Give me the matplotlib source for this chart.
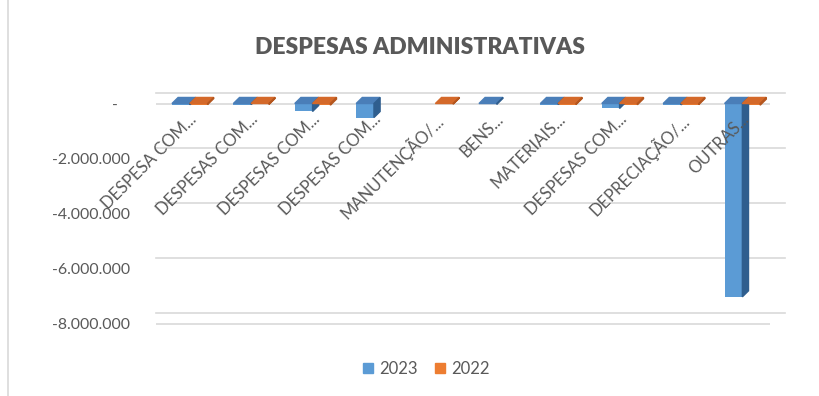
import matplotlib.pyplot as plt
from matplotlib.patches import Polygon, Rectangle
from matplotlib.lines import Line2D
from matplotlib.ticker import FuncFormatter

# dados
categorias = ['DESPESA COM...', 'DESPESAS COM...', 'DESPESAS COM...', 'DESPESAS COM...',
              'MANUTENÇÃO/...', 'BENS...', 'MATERIAIS...', 'DESPESAS COM...',
              'DEPRECIAÇÃO/...', 'OUTRAS...']
v2023 = [-45000, -40000, -290000, -510000, 0, -30000, -40000, -180000, -50000, -7030000]
v2022 = [-40000, -35000, -60000, 0, -25000, 0, -40000, -45000, -40000, -60000]
anos = ['2023', '2022']

AZUL = '#5B9BD5'
LARANJA = '#ED7D31'
CINZA = '#595959'
GRADE = '#D9D9D9'

plt.rcParams['font.family'] = ['Lato', 'DejaVu Sans']

fig = plt.figure(figsize=(8.2, 3.96), dpi=100)
ax = fig.add_axes([156 / 820, 0.1761, 614 / 820, 0.5972])
ax.set_xlim(-0.55, 9.45)
ax.set_ylim(-8.1e6, 0.5e6)
for s in ax.spines.values():
    s.set_visible(False)

# parede de fundo / grade (efeito 3D)
dyw = 0.38e6
dxw = 0.24
for v in [0, -2e6, -4e6, -6e6, -8e6]:
    ax.plot([-0.55, 9.45 + dxw], [v + dyw, v + dyw], color=GRADE, lw=1.2, clip_on=False, zorder=0)
ax.plot([-0.55, 9.45], [0, 0], color=GRADE, lw=1.2, zorder=0)
ax.plot([-0.55, 9.45], [-8e6, -8e6], color=GRADE, lw=1.2, zorder=0)

# barras com faces superior e lateral
w = 0.29
dx = 0.1
dy = 0.22e6

def barra3d(x0, v, cor, topo, lado):
    if v == 0:
        return
    ax.bar(x0, v, width=w, align='edge', color=cor, zorder=3)
    ax.add_patch(Polygon([(x0, 0), (x0 + w, 0), (x0 + w + dx, dy), (x0 + dx, dy)],
                         closed=True, color=topo, zorder=4))
    ax.add_patch(Polygon([(x0 + w, 0), (x0 + w + dx, dy), (x0 + w + dx, v + dy), (x0 + w, v)],
                         closed=True, color=lado, zorder=4))

for i in range(len(categorias)):
    barra3d(i - w, v2023[i], AZUL, '#4A7EB8', '#2F5E8E')
    barra3d(i, v2022[i], LARANJA, '#D4692A', '#B4561E')

# rótulos das categorias
ax.set_xticks([])
for i, c in enumerate(categorias):
    ax.text(i - 0.02, -0.28e6, c, rotation=45, rotation_mode='anchor', ha='right', va='top',
            fontsize=12, color=CINZA, zorder=5)

def fmt(v, pos):
    if v == 0:
        return '-   '
    return '{:,.0f}'.format(v).replace(',', '.')

ax.set_yticks([0, -2e6, -4e6, -6e6, -8e6])
ax.yaxis.set_major_formatter(FuncFormatter(fmt))
ax.tick_params(axis='y', length=0, pad=18.7, labelsize=11.4, labelcolor=CINZA)

fig.text(0.512, 0.88, 'DESPESAS ADMINISTRATIVAS', ha='center', va='center',
         fontsize=16.5, fontweight='heavy', color=CINZA)

# legenda
hs = [Rectangle((0, 0), 1, 1, color=AZUL), Rectangle((0, 0), 1, 1, color=LARANJA)]
fig.legend(hs, anos, loc='center', bbox_to_anchor=(0.52, 0.068), ncol=2, frameon=False,
           fontsize=12, labelcolor=CINZA, handlelength=0.6, handleheight=0.6,
           handletextpad=0.4, columnspacing=1.0)

# borda do gráfico
fig.add_artist(Line2D([8 / 820, 8 / 820], [0, 1], color=GRADE, lw=1.2))

fig.savefig('out.png', dpi=100, facecolor='white')
